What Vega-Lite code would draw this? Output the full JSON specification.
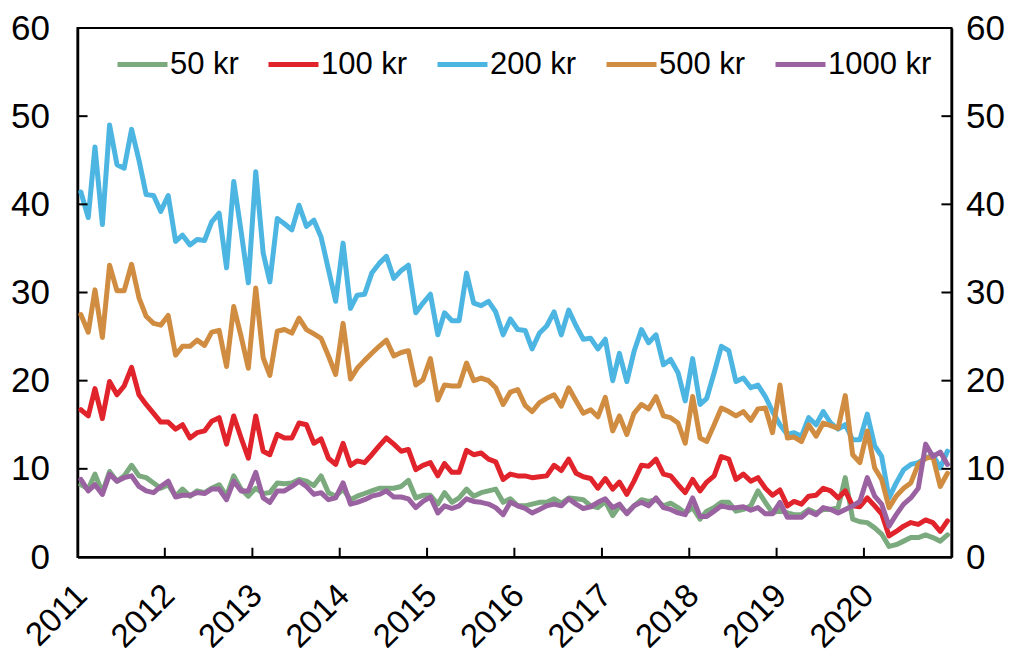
{
  "$schema": "https://vega.github.io/schema/vega-lite/v6.json",
  "width": 874,
  "height": 529,
  "autosize": "none",
  "padding": {"left": 77.5, "top": 28, "right": 69.5, "bottom": 97},
  "background": "white",
  "config": {
    "font": "Liberation Sans",
    "view": {"stroke": "black", "strokeWidth": 2},
    "axis": {"grid": false, "domainColor": "black", "domainWidth": 2.5, "tickColor": "black", "tickWidth": 2, "labelColor": "black", "labelFontSize": 33, "labelFont": "Liberation Sans", "title": null}
  },
  "data": {"values": [
    {"d":"2011-01-15","50 kr":8.2,"100 kr":16.7,"200 kr":41.4,"500 kr":27.5,"1000 kr":8.8},
    {"d":"2011-02-15","50 kr":7.7,"100 kr":16.0,"200 kr":38.5,"500 kr":25.5,"1000 kr":7.5},
    {"d":"2011-03-15","50 kr":9.4,"100 kr":19.1,"200 kr":46.5,"500 kr":30.3,"1000 kr":8.2},
    {"d":"2011-04-15","50 kr":7.3,"100 kr":15.7,"200 kr":37.7,"500 kr":24.9,"1000 kr":7.1},
    {"d":"2011-05-15","50 kr":9.7,"100 kr":19.9,"200 kr":49.0,"500 kr":33.1,"1000 kr":9.4},
    {"d":"2011-06-15","50 kr":8.6,"100 kr":18.4,"200 kr":44.5,"500 kr":30.2,"1000 kr":8.6},
    {"d":"2011-07-15","50 kr":9.2,"100 kr":19.4,"200 kr":44.1,"500 kr":30.2,"1000 kr":9.0},
    {"d":"2011-08-15","50 kr":10.4,"100 kr":21.5,"200 kr":48.5,"500 kr":33.2,"1000 kr":9.2},
    {"d":"2011-09-15","50 kr":9.2,"100 kr":18.4,"200 kr":45.0,"500 kr":29.4,"1000 kr":8.0},
    {"d":"2011-10-15","50 kr":9.0,"100 kr":17.3,"200 kr":41.1,"500 kr":27.3,"1000 kr":7.5},
    {"d":"2011-11-15","50 kr":8.4,"100 kr":16.3,"200 kr":41.0,"500 kr":26.5,"1000 kr":7.3},
    {"d":"2011-12-15","50 kr":7.8,"100 kr":15.3,"200 kr":39.2,"500 kr":26.3,"1000 kr":8.0},
    {"d":"2012-01-15","50 kr":8.2,"100 kr":15.3,"200 kr":41.0,"500 kr":27.4,"1000 kr":8.6},
    {"d":"2012-02-15","50 kr":6.9,"100 kr":14.5,"200 kr":35.8,"500 kr":22.9,"1000 kr":6.8},
    {"d":"2012-03-15","50 kr":7.7,"100 kr":15.0,"200 kr":36.5,"500 kr":23.9,"1000 kr":7.0},
    {"d":"2012-04-15","50 kr":6.9,"100 kr":13.5,"200 kr":35.4,"500 kr":23.9,"1000 kr":7.0},
    {"d":"2012-05-15","50 kr":7.5,"100 kr":14.1,"200 kr":36.0,"500 kr":24.6,"1000 kr":7.3},
    {"d":"2012-06-15","50 kr":7.3,"100 kr":14.3,"200 kr":35.9,"500 kr":24.0,"1000 kr":7.2},
    {"d":"2012-07-15","50 kr":7.8,"100 kr":15.4,"200 kr":38.0,"500 kr":25.5,"1000 kr":7.7},
    {"d":"2012-08-15","50 kr":8.2,"100 kr":15.8,"200 kr":39.0,"500 kr":25.7,"1000 kr":7.7},
    {"d":"2012-09-15","50 kr":6.9,"100 kr":12.8,"200 kr":32.8,"500 kr":21.6,"1000 kr":6.5},
    {"d":"2012-10-15","50 kr":9.2,"100 kr":16.0,"200 kr":42.6,"500 kr":28.4,"1000 kr":8.6},
    {"d":"2012-11-15","50 kr":7.7,"100 kr":13.5,"200 kr":36.9,"500 kr":25.0,"1000 kr":7.5},
    {"d":"2012-12-15","50 kr":6.9,"100 kr":11.2,"200 kr":31.1,"500 kr":21.4,"1000 kr":7.5},
    {"d":"2013-01-15","50 kr":7.8,"100 kr":16.0,"200 kr":43.7,"500 kr":30.5,"1000 kr":9.6},
    {"d":"2013-02-15","50 kr":7.2,"100 kr":12.0,"200 kr":34.5,"500 kr":22.6,"1000 kr":6.7},
    {"d":"2013-03-15","50 kr":7.3,"100 kr":11.6,"200 kr":31.2,"500 kr":20.6,"1000 kr":6.2},
    {"d":"2013-04-15","50 kr":8.4,"100 kr":13.9,"200 kr":38.4,"500 kr":25.6,"1000 kr":7.5},
    {"d":"2013-05-15","50 kr":8.3,"100 kr":13.5,"200 kr":37.8,"500 kr":25.8,"1000 kr":7.5},
    {"d":"2013-06-15","50 kr":8.4,"100 kr":13.5,"200 kr":37.1,"500 kr":25.4,"1000 kr":8.0},
    {"d":"2013-07-15","50 kr":8.8,"100 kr":15.2,"200 kr":39.9,"500 kr":27.1,"1000 kr":8.6},
    {"d":"2013-08-15","50 kr":8.6,"100 kr":15.0,"200 kr":37.5,"500 kr":25.8,"1000 kr":8.0},
    {"d":"2013-09-15","50 kr":8.1,"100 kr":12.9,"200 kr":38.2,"500 kr":25.3,"1000 kr":7.1},
    {"d":"2013-10-15","50 kr":9.2,"100 kr":13.4,"200 kr":36.3,"500 kr":24.8,"1000 kr":7.3},
    {"d":"2013-11-15","50 kr":7.3,"100 kr":11.2,"200 kr":32.6,"500 kr":22.8,"1000 kr":6.5},
    {"d":"2013-12-15","50 kr":6.9,"100 kr":10.5,"200 kr":29.0,"500 kr":20.7,"1000 kr":6.7},
    {"d":"2014-01-15","50 kr":7.7,"100 kr":12.9,"200 kr":35.6,"500 kr":26.5,"1000 kr":8.4},
    {"d":"2014-02-15","50 kr":6.5,"100 kr":10.4,"200 kr":28.2,"500 kr":20.2,"1000 kr":6.0},
    {"d":"2014-03-15","50 kr":6.9,"100 kr":10.9,"200 kr":29.7,"500 kr":21.4,"1000 kr":6.2},
    {"d":"2014-04-15","50 kr":7.2,"100 kr":10.7,"200 kr":29.8,"500 kr":22.3,"1000 kr":6.5},
    {"d":"2014-05-15","50 kr":7.5,"100 kr":11.6,"200 kr":32.2,"500 kr":23.1,"1000 kr":6.9},
    {"d":"2014-06-15","50 kr":7.8,"100 kr":12.6,"200 kr":33.3,"500 kr":23.9,"1000 kr":7.1},
    {"d":"2014-07-15","50 kr":7.8,"100 kr":13.5,"200 kr":34.1,"500 kr":24.6,"1000 kr":7.5},
    {"d":"2014-08-15","50 kr":7.8,"100 kr":12.8,"200 kr":31.6,"500 kr":22.8,"1000 kr":6.8},
    {"d":"2014-09-15","50 kr":8.0,"100 kr":12.0,"200 kr":32.5,"500 kr":23.2,"1000 kr":6.8},
    {"d":"2014-10-15","50 kr":8.7,"100 kr":12.2,"200 kr":33.1,"500 kr":23.4,"1000 kr":6.6},
    {"d":"2014-11-15","50 kr":6.7,"100 kr":9.9,"200 kr":27.7,"500 kr":19.5,"1000 kr":5.6},
    {"d":"2014-12-15","50 kr":7.0,"100 kr":10.4,"200 kr":28.8,"500 kr":20.1,"1000 kr":6.3},
    {"d":"2015-01-15","50 kr":7.0,"100 kr":10.7,"200 kr":29.8,"500 kr":22.5,"1000 kr":6.8},
    {"d":"2015-02-15","50 kr":6.0,"100 kr":9.2,"200 kr":25.2,"500 kr":17.8,"1000 kr":5.0},
    {"d":"2015-03-15","50 kr":7.3,"100 kr":10.6,"200 kr":27.7,"500 kr":19.5,"1000 kr":5.8},
    {"d":"2015-04-15","50 kr":6.2,"100 kr":9.6,"200 kr":26.8,"500 kr":19.4,"1000 kr":5.5},
    {"d":"2015-05-15","50 kr":6.7,"100 kr":9.6,"200 kr":26.8,"500 kr":19.4,"1000 kr":5.8},
    {"d":"2015-06-15","50 kr":7.7,"100 kr":12.1,"200 kr":32.2,"500 kr":22.0,"1000 kr":6.6},
    {"d":"2015-07-15","50 kr":6.9,"100 kr":11.6,"200 kr":28.8,"500 kr":20.0,"1000 kr":6.3},
    {"d":"2015-08-15","50 kr":7.3,"100 kr":11.8,"200 kr":28.5,"500 kr":20.3,"1000 kr":6.2},
    {"d":"2015-09-15","50 kr":7.5,"100 kr":11.1,"200 kr":29.0,"500 kr":20.0,"1000 kr":6.0},
    {"d":"2015-10-15","50 kr":7.7,"100 kr":10.8,"200 kr":27.8,"500 kr":19.2,"1000 kr":5.6},
    {"d":"2015-11-15","50 kr":6.2,"100 kr":8.8,"200 kr":25.2,"500 kr":17.3,"1000 kr":4.8},
    {"d":"2015-12-15","50 kr":6.6,"100 kr":9.4,"200 kr":27.0,"500 kr":18.7,"1000 kr":6.2},
    {"d":"2016-01-15","50 kr":5.8,"100 kr":9.2,"200 kr":25.8,"500 kr":19.0,"1000 kr":5.8},
    {"d":"2016-02-15","50 kr":5.8,"100 kr":9.2,"200 kr":25.7,"500 kr":17.2,"1000 kr":5.5},
    {"d":"2016-03-15","50 kr":6.0,"100 kr":9.0,"200 kr":23.6,"500 kr":16.5,"1000 kr":5.0},
    {"d":"2016-04-15","50 kr":6.2,"100 kr":9.1,"200 kr":25.4,"500 kr":17.5,"1000 kr":5.4},
    {"d":"2016-05-15","50 kr":6.2,"100 kr":9.2,"200 kr":26.2,"500 kr":18.0,"1000 kr":5.8},
    {"d":"2016-06-15","50 kr":6.6,"100 kr":10.4,"200 kr":27.8,"500 kr":18.4,"1000 kr":6.0},
    {"d":"2016-07-15","50 kr":6.1,"100 kr":9.8,"200 kr":25.2,"500 kr":17.1,"1000 kr":5.8},
    {"d":"2016-08-15","50 kr":6.7,"100 kr":11.1,"200 kr":28.0,"500 kr":19.2,"1000 kr":6.6},
    {"d":"2016-09-15","50 kr":6.6,"100 kr":9.5,"200 kr":26.2,"500 kr":17.7,"1000 kr":6.0},
    {"d":"2016-10-15","50 kr":6.5,"100 kr":9.1,"200 kr":24.7,"500 kr":16.3,"1000 kr":5.5},
    {"d":"2016-11-15","50 kr":5.8,"100 kr":8.9,"200 kr":24.8,"500 kr":16.7,"1000 kr":5.7},
    {"d":"2016-12-15","50 kr":5.6,"100 kr":7.8,"200 kr":23.6,"500 kr":15.9,"1000 kr":6.2},
    {"d":"2017-01-15","50 kr":6.3,"100 kr":8.9,"200 kr":24.7,"500 kr":18.1,"1000 kr":6.6},
    {"d":"2017-02-15","50 kr":4.7,"100 kr":7.7,"200 kr":20.0,"500 kr":14.3,"1000 kr":5.6},
    {"d":"2017-03-15","50 kr":5.8,"100 kr":8.5,"200 kr":23.1,"500 kr":16.0,"1000 kr":6.0},
    {"d":"2017-04-15","50 kr":5.0,"100 kr":7.1,"200 kr":19.9,"500 kr":13.9,"1000 kr":4.9},
    {"d":"2017-05-15","50 kr":5.8,"100 kr":8.6,"200 kr":23.3,"500 kr":16.3,"1000 kr":5.8},
    {"d":"2017-06-15","50 kr":6.5,"100 kr":10.4,"200 kr":25.8,"500 kr":17.3,"1000 kr":6.2},
    {"d":"2017-07-15","50 kr":6.3,"100 kr":10.3,"200 kr":24.3,"500 kr":16.8,"1000 kr":5.8},
    {"d":"2017-08-15","50 kr":6.5,"100 kr":11.1,"200 kr":25.2,"500 kr":18.2,"1000 kr":6.7},
    {"d":"2017-09-15","50 kr":5.8,"100 kr":9.4,"200 kr":21.8,"500 kr":16.0,"1000 kr":5.6},
    {"d":"2017-10-15","50 kr":6.1,"100 kr":9.2,"200 kr":22.4,"500 kr":15.8,"1000 kr":5.4},
    {"d":"2017-11-15","50 kr":5.6,"100 kr":8.2,"200 kr":20.9,"500 kr":15.2,"1000 kr":5.0},
    {"d":"2017-12-15","50 kr":5.0,"100 kr":7.3,"200 kr":17.7,"500 kr":12.9,"1000 kr":4.8},
    {"d":"2018-01-15","50 kr":5.6,"100 kr":8.8,"200 kr":22.5,"500 kr":18.2,"1000 kr":6.7},
    {"d":"2018-02-15","50 kr":4.3,"100 kr":7.5,"200 kr":17.3,"500 kr":13.5,"1000 kr":4.6},
    {"d":"2018-03-15","50 kr":5.2,"100 kr":8.5,"200 kr":18.0,"500 kr":13.1,"1000 kr":4.6},
    {"d":"2018-04-15","50 kr":5.6,"100 kr":9.2,"200 kr":20.9,"500 kr":15.0,"1000 kr":5.2},
    {"d":"2018-05-15","50 kr":6.2,"100 kr":11.4,"200 kr":23.9,"500 kr":16.9,"1000 kr":5.8},
    {"d":"2018-06-15","50 kr":6.2,"100 kr":11.1,"200 kr":23.4,"500 kr":16.5,"1000 kr":5.6},
    {"d":"2018-07-15","50 kr":5.2,"100 kr":8.8,"200 kr":19.9,"500 kr":16.0,"1000 kr":5.6},
    {"d":"2018-08-15","50 kr":5.4,"100 kr":9.4,"200 kr":20.3,"500 kr":16.5,"1000 kr":5.7},
    {"d":"2018-09-15","50 kr":5.8,"100 kr":8.6,"200 kr":19.2,"500 kr":15.5,"1000 kr":5.3},
    {"d":"2018-10-15","50 kr":7.5,"100 kr":9.0,"200 kr":19.5,"500 kr":16.8,"1000 kr":5.6},
    {"d":"2018-11-15","50 kr":6.2,"100 kr":7.8,"200 kr":18.2,"500 kr":16.9,"1000 kr":4.9},
    {"d":"2018-12-15","50 kr":5.0,"100 kr":7.0,"200 kr":16.5,"500 kr":14.1,"1000 kr":4.9},
    {"d":"2019-01-15","50 kr":5.3,"100 kr":7.6,"200 kr":15.0,"500 kr":19.5,"1000 kr":6.2},
    {"d":"2019-02-15","50 kr":5.0,"100 kr":5.8,"200 kr":13.9,"500 kr":13.5,"1000 kr":4.5},
    {"d":"2019-03-15","50 kr":4.8,"100 kr":6.3,"200 kr":14.1,"500 kr":13.6,"1000 kr":4.5},
    {"d":"2019-04-15","50 kr":4.8,"100 kr":6.0,"200 kr":13.7,"500 kr":13.1,"1000 kr":4.5},
    {"d":"2019-05-15","50 kr":5.4,"100 kr":6.9,"200 kr":15.8,"500 kr":15.0,"1000 kr":5.2},
    {"d":"2019-06-15","50 kr":5.0,"100 kr":7.0,"200 kr":15.0,"500 kr":13.7,"1000 kr":4.8},
    {"d":"2019-07-15","50 kr":5.4,"100 kr":7.8,"200 kr":16.5,"500 kr":15.2,"1000 kr":5.6},
    {"d":"2019-08-15","50 kr":5.4,"100 kr":7.5,"200 kr":15.2,"500 kr":14.9,"1000 kr":5.4},
    {"d":"2019-09-15","50 kr":5.6,"100 kr":6.7,"200 kr":14.5,"500 kr":14.6,"1000 kr":5.0},
    {"d":"2019-10-15","50 kr":9.0,"100 kr":7.5,"200 kr":15.0,"500 kr":18.3,"1000 kr":5.4},
    {"d":"2019-11-15","50 kr":4.3,"100 kr":5.8,"200 kr":13.3,"500 kr":11.6,"1000 kr":5.8},
    {"d":"2019-12-15","50 kr":4.0,"100 kr":5.7,"200 kr":13.3,"500 kr":10.7,"1000 kr":6.3},
    {"d":"2020-01-15","50 kr":3.9,"100 kr":6.7,"200 kr":16.2,"500 kr":14.3,"1000 kr":9.0},
    {"d":"2020-02-15","50 kr":3.3,"100 kr":5.8,"200 kr":12.6,"500 kr":10.1,"1000 kr":6.9},
    {"d":"2020-03-15","50 kr":2.6,"100 kr":4.9,"200 kr":11.4,"500 kr":8.8,"1000 kr":6.0},
    {"d":"2020-04-15","50 kr":1.2,"100 kr":2.4,"200 kr":6.7,"500 kr":5.6,"1000 kr":3.5},
    {"d":"2020-05-15","50 kr":1.4,"100 kr":2.9,"200 kr":8.4,"500 kr":6.9,"1000 kr":4.8},
    {"d":"2020-06-15","50 kr":1.8,"100 kr":3.5,"200 kr":9.9,"500 kr":7.8,"1000 kr":6.0},
    {"d":"2020-07-15","50 kr":2.2,"100 kr":3.9,"200 kr":10.5,"500 kr":8.4,"1000 kr":6.7},
    {"d":"2020-08-15","50 kr":2.2,"100 kr":3.7,"200 kr":10.7,"500 kr":10.5,"1000 kr":7.8},
    {"d":"2020-09-15","50 kr":2.5,"100 kr":4.2,"200 kr":11.2,"500 kr":11.2,"1000 kr":12.8},
    {"d":"2020-10-15","50 kr":2.2,"100 kr":3.9,"200 kr":11.6,"500 kr":11.4,"1000 kr":11.4},
    {"d":"2020-11-15","50 kr":1.8,"100 kr":2.9,"200 kr":10.1,"500 kr":8.0,"1000 kr":11.9},
    {"d":"2020-12-15","50 kr":2.5,"100 kr":4.1,"200 kr":12.0,"500 kr":9.5,"1000 kr":10.5}
  ]},
  "layer": [
    {
      "transform": [{"fold": ["50 kr", "100 kr", "200 kr", "500 kr", "1000 kr"], "as": ["serie", "verdi"]}],
      "mark": {"type": "line", "strokeWidth": 5, "strokeJoin": "round", "strokeCap": "round"},
      "encoding": {
        "x": {
          "field": "d", "type": "temporal",
          "scale": {"domain": [{"year": 2011, "month": 1, "date": 1}, {"year": 2021, "month": 1, "date": 1}]},
          "axis": {
            "orient": "bottom", "format": "%Y", "tickCount": {"interval": "year", "step": 1},
            "labelAngle": -45, "labelAlign": "right", "labelBaseline": "middle",
            "ticks": false, "labelPadding": 33, "labelOffset": 4,
            "labelFlush": false, "labelOverlap": false,
            "labelExpr": "year(datum.value) > 2020 ? '' : datum.label"
          }
        },
        "y": {"field": "verdi", "type": "quantitative",
          "scale": {"domain": [0, 60], "nice": false},
          "axis": {"orient": "left", "values": [0, 10, 20, 30, 40, 50, 60], "ticks": false, "labelPadding": 28, "labelFontSize": 35}},
        "color": {"field": "serie", "type": "nominal",
          "scale": {"domain": ["50 kr", "100 kr", "200 kr", "500 kr", "1000 kr"], "range": ["#7BAA7E", "#E1232B", "#4CB5E1", "#D08D41", "#9A62A1"]},
          "legend": {"orient": "none", "legendX": 37.5, "legendY": 9, "direction": "horizontal", "title": null, "gridAlign": "none",
            "symbolType": "stroke", "symbolSize": 2500, "symbolStrokeWidth": 5, "labelFontSize": 31, "labelColor": "black",
            "labelOffset": 0, "columnPadding": 19, "padding": 0, "rowPadding": 0}}
      }
    },
    {
      "transform": [{"fold": ["50 kr", "100 kr", "200 kr", "500 kr", "1000 kr"], "as": ["serie", "verdi"]}],
      "mark": {"type": "line", "opacity": 0},
      "encoding": {
        "x": {"field": "d", "type": "temporal", "axis": null},
        "y": {"field": "verdi", "type": "quantitative",
          "axis": {"orient": "right", "values": [0, 10, 20, 30, 40, 50, 60], "ticks": false, "labelPadding": 14, "labelFontSize": 35}},
        "detail": {"field": "serie"}
      }
    },
    {
      "data": {"values": [{"t": 10}, {"t": 20}, {"t": 30}, {"t": 40}, {"t": 50}]},
      "mark": {"type": "rule", "color": "black", "strokeWidth": 2},
      "encoding": {
        "y": {"field": "t", "type": "quantitative", "axis": null},
        "x": {"datum": {"year": 2011, "month": 1, "date": 1}, "type": "temporal", "axis": null},
        "x2": {"datum": {"year": 2011, "month": 2, "date": 12}}
      }
    },
    {
      "data": {"values": [{"t": 10}, {"t": 20}, {"t": 30}, {"t": 40}, {"t": 50}]},
      "mark": {"type": "rule", "color": "black", "strokeWidth": 2},
      "encoding": {
        "y": {"field": "t", "type": "quantitative", "axis": null},
        "x": {"datum": {"year": 2020, "month": 11, "date": 20}, "type": "temporal", "axis": null},
        "x2": {"datum": {"year": 2021, "month": 1, "date": 1}}
      }
    },
    {
      "data": {"values": [{"yr": "2012-01-01"}, {"yr": "2013-01-01"}, {"yr": "2014-01-01"}, {"yr": "2015-01-01"}, {"yr": "2016-01-01"}, {"yr": "2017-01-01"}, {"yr": "2018-01-01"}, {"yr": "2019-01-01"}, {"yr": "2020-01-01"}]},
      "mark": {"type": "rule", "color": "black", "strokeWidth": 2},
      "encoding": {
        "x": {"field": "yr", "type": "temporal", "axis": null},
        "y": {"datum": 0, "type": "quantitative", "axis": null},
        "y2": {"datum": 1.05}
      }
    }
  ],
  "resolve": {"axis": {"x": "independent", "y": "independent"}}
}
